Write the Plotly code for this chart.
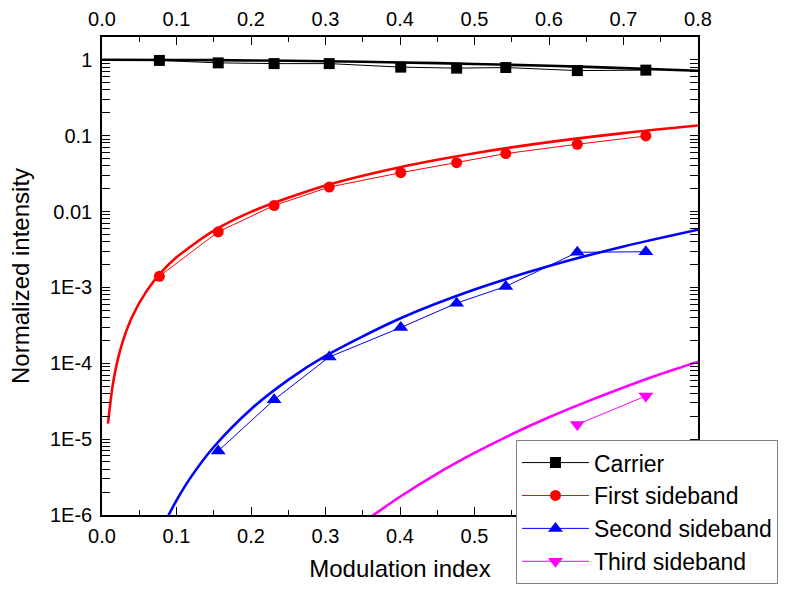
import plotly.graph_objects as go

# Measured sideband intensities vs modulation index
meas_x = [0.077, 0.156, 0.231, 0.305, 0.401, 0.476, 0.542, 0.638, 0.730]
carrier_meas = [0.98, 0.91, 0.89, 0.89, 0.80, 0.775, 0.79, 0.72, 0.73]
first_meas = [1.40e-3, 5.4e-3, 0.0120, 0.0210, 0.0325, 0.044, 0.058, 0.077, 0.099]
second_x = [0.156, 0.231, 0.305, 0.401, 0.476, 0.542, 0.638, 0.730]
second_meas = [7.0e-6, 3.3e-5, 1.21e-4, 2.95e-4, 6.2e-4, 1.03e-3, 2.9e-3, 2.95e-3]
third_x = [0.638, 0.730]
third_meas = [1.56e-5, 3.7e-5]

# Theoretical curves
carrier_fit_x = [0.0, 0.1, 0.2, 0.3, 0.4, 0.5, 0.6, 0.7, 0.8]
carrier_fit_y = [1.0, 0.995, 0.980, 0.956, 0.922, 0.881, 0.832, 0.777, 0.716]
first_fit_x = [0.008, 0.015, 0.025, 0.04, 0.06, 0.08, 0.1, 0.15, 0.2, 0.3, 0.4, 0.5, 0.6, 0.7, 0.8]
first_fit_y = [1.6e-5, 5.6e-5, 1.56e-4, 4.0e-4, 9.0e-4, 1.60e-3, 2.49e-3, 5.59e-3,
               9.90e-3, 0.0220, 0.0384, 0.0587, 0.0822, 0.108, 0.136]
second_fit_x = [0.085, 0.1, 0.12, 0.15, 0.2, 0.25, 0.3, 0.4, 0.5, 0.6, 0.7, 0.8]
second_fit_y = [8.2e-7, 1.56e-6, 3.23e-6, 7.88e-6, 2.48e-5, 6.04e-5, 1.25e-4,
                3.89e-4, 9.37e-4, 1.91e-3, 3.46e-3, 5.75e-3]
third_fit_x = [0.36, 0.4, 0.45, 0.5, 0.55, 0.6, 0.65, 0.7, 0.75, 0.8]
third_fit_y = [9.3e-7, 1.74e-6, 3.51e-6, 6.57e-6, 1.16e-5, 1.94e-5, 3.10e-5,
               4.80e-5, 7.20e-5, 1.05e-4]

y_tickvals = [1e-6, 1e-5, 1e-4, 1e-3, 1e-2, 1e-1, 1]
y_ticktext = ["1E-6", "1E-5", "1E-4", "1E-3", "0.01", "0.1", "1"]
x_tickvals = [0.0, 0.1, 0.2, 0.3, 0.4, 0.5, 0.6, 0.7, 0.8]
x_ticktext = ["0.0", "0.1", "0.2", "0.3", "0.4", "0.5", "0.6", "0.7", "0.8"]

FONT = "Arial, Liberation Sans, sans-serif"
BLACK, RED, BLUE, MAGENTA = "#000000", "#ff0000", "#0000ff", "#ff00ff"

fig = go.Figure()

fits = [
    (carrier_fit_x, carrier_fit_y, BLACK),
    (first_fit_x, first_fit_y, RED),
    (second_fit_x, second_fit_y, BLUE),
    (third_fit_x, third_fit_y, MAGENTA),
]
for fx, fy, col in fits:
    fig.add_trace(go.Scatter(
        x=fx, y=fy, mode="lines", showlegend=False, hoverinfo="skip",
        line=dict(color=col, width=2.6, shape="spline", smoothing=0.8),
    ))

meas = [
    ("Carrier", meas_x, carrier_meas, BLACK, "square", 11),
    ("First sideband", meas_x, first_meas, RED, "circle", 11),
    ("Second sideband", second_x, second_meas, BLUE, "triangle-up", 13),
    ("Third sideband", third_x, third_meas, MAGENTA, "triangle-down", 13),
]
for name, mx, my, col, sym, sz in meas:
    fig.add_trace(go.Scatter(
        x=mx, y=my, name=name, mode="lines+markers",
        line=dict(color=col, width=1),
        marker=dict(symbol=sym, size=sz, color=col, line=dict(width=0)),
    ))

# invisible trace so the top axis is drawn
fig.add_trace(go.Scatter(x=[0, 0.8], y=[1e-3, 1e-3], xaxis="x2", mode="lines",
                         line=dict(width=0), showlegend=False, hoverinfo="skip",
                         opacity=0))

axis_common = dict(
    showgrid=False, zeroline=False, showline=True, linecolor=BLACK, linewidth=1.5,
    ticks="inside", ticklen=8, tickwidth=1.2, tickcolor=BLACK,
    tickfont=dict(family=FONT, size=20, color=BLACK), automargin=False,
)

fig.update_layout(
    width=792, height=590,
    margin=dict(l=102, r=94, t=37, b=75, autoexpand=False),
    paper_bgcolor="white", plot_bgcolor="white",
    font=dict(family=FONT, color=BLACK),
    xaxis=dict(
        **axis_common, range=[0, 0.8], mirror="allticks",
        tickmode="array", tickvals=x_tickvals, ticktext=x_ticktext,
        minor=dict(ticks="inside", ticklen=5, tickwidth=1.2, tickcolor=BLACK,
                   dtick=0.05, tick0=0, showgrid=False),
        title=dict(text="Modulation index", font=dict(family=FONT, size=24), standoff=14),
        ticklabelstandoff=2,
    ),
    xaxis2=dict(
        range=[0, 0.8], overlaying="x", side="top", anchor="y", automargin=False,
        showgrid=False, zeroline=False, showline=False, ticks="",
        tickmode="array", tickvals=x_tickvals, ticktext=x_ticktext,
        tickfont=dict(family=FONT, size=20, color=BLACK),
        ticklabelstandoff=6,
    ),
    yaxis=dict(
        **axis_common, type="log", range=[-6, 0.3], mirror="allticks",
        tickmode="array", tickvals=y_tickvals, ticktext=y_ticktext,
        minor=dict(ticks="inside", ticklen=4, tickwidth=1.2, tickcolor=BLACK,
                   dtick="D1", showgrid=False),
        title=dict(text="Normalized intensity", font=dict(family=FONT, size=24), standoff=14),
        ticklabelstandoff=4,
    ),
    legend=dict(
        x=0.6946, y=0.006, xanchor="left", yanchor="middle",
        bgcolor="white", bordercolor="#808080", borderwidth=1,
        font=dict(family=FONT, size=23, color=BLACK),
        itemwidth=67, tracegroupgap=0,
    ),
)

fig.write_html("out.html")
